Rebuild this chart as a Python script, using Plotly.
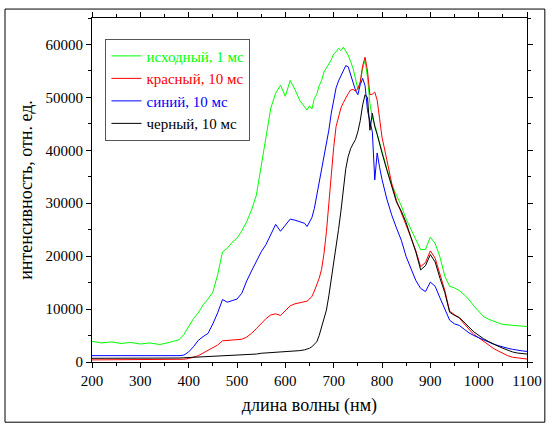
import plotly.graph_objects as go

# wavelength grid, nm (finer near the peaks)
wavelength = ([200, 220, 240, 260, 280, 300, 320, 340, 360, 380]
              + list(range(390, 641, 10))
              + list(range(645, 801, 5))
              + list(range(810, 1101, 10)))

green = [3900, 3600, 3800, 3500, 3700, 3400, 3600, 3300, 3700, 4200,
         5200, 6800, 8200, 9300, 10800, 11900, 13200, 16500, 20800, 21500,
         22600, 23400, 24800, 26500, 28700, 31500, 37000, 42000, 48000, 50800,
         52300, 50200, 53200, 51500, 49400, 48200,
         47600, 48400, 47800, 49800, 50600, 52200, 53200, 54800, 55600, 56500,
         57100, 58200, 58600, 59300, 58800, 59500, 58700, 58000, 56800, 55500,
         53600, 51500, 52900, 55500, 57000, 53800, 48800, 46200, 44800, 43000,
         41500, 39800,
         36500, 33500, 31500, 29500, 27000, 25000, 23300, 21200, 21300, 23600,
         22400, 19800, 16200, 14300, 14000, 13500, 12700, 11800, 10600, 9600,
         8600, 8100, 7700, 7400, 7100, 7000, 6900, 6800, 6700, 6700]

red = [400, 400, 380, 400, 420, 400, 420, 430, 450, 480,
       520, 650, 900, 1200, 1700, 2200, 2600, 3200, 4000, 4050,
       4100, 4150, 4300, 4700, 5400, 6300, 7300, 8200, 8900, 9100,
       8800, 9700, 10600, 11000, 11200, 11300,
       11500, 11900, 12400, 13400, 14500, 15800, 17500, 20500, 24600, 30000,
       35500, 40500, 44500, 46500, 48000, 49000, 50000, 50700, 51400, 51500,
       51200, 51600, 52900, 56000, 57600, 55000, 50500, 50600, 51000, 49500,
       46000, 42500,
       38200, 33800, 30500, 28200, 26000, 23500, 21000, 18000, 18800, 21000,
       19600, 16600, 13500, 9600, 8900, 8300, 7200, 6200, 5200, 4600,
       3900, 3200, 2600, 2100, 1600, 1200, 900, 750, 620, 560]

blue = [1200, 1200, 1150, 1200, 1150, 1150, 1100, 1150, 1100, 1200,
        1300, 1900, 2900, 4100, 4800, 5400, 7200, 9300, 11800, 11300,
        11600, 11900, 13000, 15300, 17200, 19000, 20800, 22200, 24200, 26000,
        24700, 25800, 27000, 26800, 26500, 26200,
        25600, 26400, 27300, 29000, 31400, 34000, 36300, 38800, 41000, 43800,
        47000, 49800, 51800, 53100, 54000, 55000, 56000, 55800, 54200, 52600,
        51400, 50500, 52400, 53600, 52200, 47500, 45200, 43500, 34400, 39500,
        36800, 34500,
        30800, 27800, 25300, 23000, 19900, 17600, 15400, 13900, 13300, 15100,
        14300, 12100, 9900, 7900, 7200, 6900, 6200, 5500, 5000, 4600,
        4100, 3700, 3400, 3100, 2800, 2600, 2400, 2200, 2100, 2000]

black = [700, 700, 650, 700, 650, 700, 650, 700, 700, 750,
         800, 850, 900, 950, 1000, 1050, 1050, 1100, 1100, 1150,
         1200, 1250, 1300, 1350, 1400, 1500, 1650, 1700, 1750, 1800,
         1850, 1900, 1950, 2050, 2150, 2300,
         2400, 2600, 2900, 3300, 3800, 5000, 6500, 8200, 9800, 12500,
         15500, 18500, 21400, 25000, 28500, 33000, 36500, 38800, 40300, 41200,
         42000, 43500, 45600, 48600, 50500, 50000, 43800, 47000, 44500, 43000,
         41000, 39500,
         36300, 33200, 30200, 28500, 26300, 23500, 20800, 17400, 18200, 20300,
         18900, 15800, 13100, 9400, 8800, 8400, 7400, 6600, 5700, 5000,
         4400, 3900, 3400, 3000, 2600, 2200, 1900, 1700, 1600, 1500]

names = ["исходный, 1 мс", "красный, 10 мс", "синий, 10 мс", "черный, 10 мс"]
colors = ["#00ff00", "#ff0000", "#0000ff", "#000000"]
series = [green, red, blue, black]

fig = go.Figure()
for name, color, vals in zip(names, colors, series):
    fig.add_trace(go.Scatter(
        x=wavelength, y=vals, mode="lines",
        name='<span style="color:%s">%s</span>' % (color, name),
        line=dict(color=color, width=1),
    ))

serif = "Liberation Serif, DejaVu Serif, serif"

fig.update_layout(
    width=554, height=431,
    margin=dict(l=92, r=27, t=13, b=69),
    paper_bgcolor="white", plot_bgcolor="white",
    font=dict(family=serif, color="black", size=15),
    xaxis=dict(
        range=[200, 1100], dtick=100, showline=True, linecolor="black",
        mirror="ticks", showgrid=False, zeroline=False,
        ticks="outside", ticklen=5, tickcolor="black",
        tickfont=dict(family=serif, size=15, color="black"),
        minor=dict(dtick=50, ticks="outside", ticklen=3, tickcolor="black"),
        title=dict(text="длина волны (нм)", font=dict(family=serif, size=18), standoff=10),
    ),
    yaxis=dict(
        range=[0, 65000], dtick=10000, tickformat="d", showline=True, linecolor="black",
        mirror="ticks", showgrid=False, zeroline=False,
        ticks="outside", ticklen=5, tickcolor="black",
        tickfont=dict(family=serif, size=15, color="black"),
        minor=dict(dtick=5000, ticks="outside", ticklen=3, tickcolor="black"),
        title=dict(text="интенсивность, отн. ед.", font=dict(family=serif, size=18), standoff=8),
    ),
    legend=dict(
        x=0.031, y=0.94, xanchor="left", yanchor="top",
        bordercolor="#555555", borderwidth=1, bgcolor="white",
        font=dict(family=serif, size=15),
        itemwidth=30, tracegroupgap=0,
    ),
    showlegend=True,
)

# outer frame around the whole picture
fig.add_shape(type="rect", xref="paper", yref="paper",
              x0=-0.2, x1=1.041, y0=-0.175, y1=1.026,
              line=dict(color="black", width=1))

fig.write_html("out.html", config={"displayModeBar": False},
               post_script="document.body.style.margin='0';")
